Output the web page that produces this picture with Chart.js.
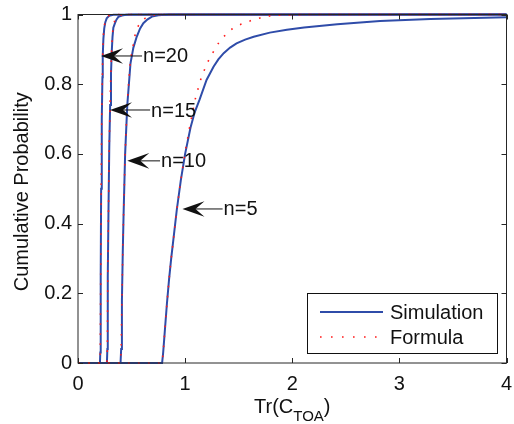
<!DOCTYPE html>
<html>
<head>
<meta charset="utf-8">
<script src="https://cdn.jsdelivr.net/npm/chart.js@4.4.1/dist/chart.umd.min.js"></script>
<style>
html,body{margin:0;padding:0;background:#fff;}
#wrap{width:514px;height:424px;position:relative;}
</style>
</head>
<body>
<div id="wrap"><canvas id="c" width="514" height="424"></canvas></div>
<script>
// ---- data ----
const xTickValues = [0, 1, 2, 3, 4];
const yTickValues = [0, 0.2, 0.4, 0.6, 0.8, 1];

const sim20X = [0, 0.205, 0.208, 0.212, 0.216, 0.222, 0.228, 0.231, 0.237, 0.245, 0.255, 0.268, 0.29, 0.33, 4];
const sim20Y = [0, 0, 0.03, 0.25, 0.5, 0.7, 0.82, 0.88, 0.93, 0.96, 0.978, 0.989, 0.996, 0.999, 1];
const for20X = [0, 0.205, 0.208, 0.212, 0.216, 0.222, 0.228, 0.231, 0.237, 0.245, 0.255, 0.268, 0.29, 0.33, 4];
const for20Y = [0, 0, 0.03, 0.25, 0.5, 0.71, 0.83, 0.89, 0.94, 0.966, 0.982, 0.992, 0.997, 1, 1];

const sim15X = [0, 0.27, 0.274, 0.278, 0.285, 0.292, 0.3, 0.308, 0.315, 0.322, 0.33, 0.346, 0.36, 0.377, 0.41, 0.45, 0.5, 4];
const sim15Y = [0, 0, 0.04, 0.25, 0.45, 0.62, 0.74, 0.83, 0.893, 0.935, 0.962, 0.976, 0.986, 0.993, 0.997, 0.999, 1, 1];
const for15X = [0, 0.27, 0.274, 0.278, 0.285, 0.292, 0.3, 0.308, 0.315, 0.322, 0.33, 0.346, 0.36, 0.377, 0.41, 0.45, 4];
const for15Y = [0, 0, 0.04, 0.25, 0.45, 0.63, 0.75, 0.845, 0.905, 0.945, 0.97, 0.985, 0.992, 0.997, 0.999, 1, 1];

const sim10X = [0, 0.397, 0.403, 0.41, 0.418, 0.425, 0.44, 0.46, 0.49, 0.517, 0.548, 0.58, 0.61, 0.65, 0.69, 0.75, 0.85, 4];
const sim10Y = [0, 0, 0.04, 0.18, 0.32, 0.42, 0.6, 0.74, 0.86, 0.905, 0.936, 0.96, 0.975, 0.986, 0.994, 0.998, 1, 1];
const for10X = [0, 0.397, 0.403, 0.41, 0.418, 0.425, 0.44, 0.46, 0.49, 0.517, 0.533, 0.564, 0.6, 0.626, 0.67, 0.75, 4];
const for10Y = [0, 0, 0.04, 0.18, 0.32, 0.42, 0.6, 0.75, 0.87, 0.915, 0.941, 0.968, 0.982, 0.989, 0.996, 1, 1];

const sim5X = [0, 0.785, 0.795, 0.81, 0.83, 0.85, 0.87, 0.89, 0.922, 0.96, 1.0, 1.05, 1.09, 1.134, 1.2, 1.265, 1.31, 1.36, 1.42, 1.48, 1.56, 1.64, 1.79, 1.95, 2.11, 2.42, 2.82, 3.29, 3.7, 4.0];
const sim5Y = [0, 0, 0.03, 0.09, 0.17, 0.24, 0.30, 0.353, 0.439, 0.525, 0.6, 0.675, 0.72, 0.755, 0.812, 0.85, 0.871, 0.889, 0.905, 0.917, 0.928, 0.936, 0.948, 0.956, 0.963, 0.972, 0.981, 0.987, 0.990, 0.992];
const for5X = [0, 0.785, 0.795, 0.81, 0.83, 0.85, 0.87, 0.89, 0.922, 0.96, 1.0, 1.05, 1.10, 1.156, 1.227, 1.318, 1.38, 1.44, 1.52, 1.61, 1.70, 1.785, 1.88, 1.97, 2.1, 4];
const for5Y = [0, 0, 0.03, 0.09, 0.17, 0.24, 0.30, 0.353, 0.439, 0.525, 0.605, 0.69, 0.765, 0.824, 0.874, 0.921, 0.943, 0.959, 0.972, 0.982, 0.99, 0.9957, 0.998, 0.9988, 1, 1];

const legendLabels = ['Simulation', 'Formula'];
const arrowLabels = ['n=20', 'n=15', 'n=10', 'n=5'];
const arrowTipX = [0.215, 0.299, 0.46, 0.975];
const arrowTipY = [0.881, 0.726, 0.58, 0.442];
const arrowTextX = [0.598, 0.673, 0.766, 1.35];

// ---- styles ----
const BLUE = '#2f4ca9';
const RED = '#ff1a1a';
const AXIS = '#262626';
const FONT = '"Liberation Sans", Arial, Helvetica, sans-serif';

function pts(xs, ys) { return xs.map((x, i) => ({ x: x, y: ys[i] })); }

function simDs(xs, ys) {
  return { label: legendLabels[0], data: pts(xs, ys), borderColor: BLUE, borderWidth: 2,
    pointRadius: 0, tension: 0, showLine: true, fill: false, order: 2, clip: 4 };
}
function forDs(xs, ys) {
  return { label: legendLabels[1], data: pts(xs, ys), borderColor: RED, borderWidth: 1.6,
    borderDash: [1.6, 8.4], borderCapStyle: 'butt', pointRadius: 0, tension: 0, showLine: true,
    fill: false, order: 1, clip: 4 };
}

const datasets = [
  simDs(sim20X, sim20Y), simDs(sim15X, sim15Y), simDs(sim10X, sim10Y), simDs(sim5X, sim5Y),
  forDs(for20X, for20Y), forDs(for15X, for15Y), forDs(for10X, for10Y), forDs(for5X, for5Y)
];

const framePlugin = {
  id: 'frame',
  afterDatasetsDraw(chart) {
    const { ctx, chartArea: a, scales } = chart;
    ctx.save();
    ctx.strokeStyle = AXIS;
    ctx.lineWidth = 1;
    ctx.strokeRect(a.left, a.top, a.right - a.left, a.bottom - a.top);
    const tl = 5;
    ctx.beginPath();
    xTickValues.forEach(v => {
      const px = Math.round(scales.x.getPixelForValue(v)) + 0.5;
      ctx.moveTo(px, a.bottom); ctx.lineTo(px, a.bottom - tl);
      ctx.moveTo(px, a.top); ctx.lineTo(px, a.top + tl);
    });
    yTickValues.forEach(v => {
      const py = Math.round(scales.y.getPixelForValue(v)) + 0.5;
      ctx.moveTo(a.left, py); ctx.lineTo(a.left + tl, py);
      ctx.moveTo(a.right, py); ctx.lineTo(a.right - tl, py);
    });
    ctx.stroke();

    // arrows + labels
    ctx.fillStyle = '#111';
    ctx.strokeStyle = '#111';
    arrowLabels.forEach((lab, i) => {
      const tx = scales.x.getPixelForValue(arrowTipX[i]);
      const ty = scales.y.getPixelForValue(arrowTipY[i]);
      const ex = scales.x.getPixelForValue(arrowTextX[i]);
      ctx.lineWidth = 1;
      ctx.beginPath();
      ctx.moveTo(tx + 12, ty); ctx.lineTo(ex, ty);
      ctx.stroke();
      ctx.beginPath();
      ctx.moveTo(tx, ty);
      ctx.lineTo(tx + 22, ty - 7.8);
      ctx.lineTo(tx + 13, ty);
      ctx.lineTo(tx + 22, ty + 7.8);
      ctx.closePath();
      ctx.fill();
      ctx.font = '20px ' + FONT;
      ctx.textBaseline = 'middle';
      ctx.textAlign = 'left';
      ctx.fillText(lab, ex + 1, ty + 1);
    });

    // legend
    const bw = 190, bh = 60;
    const bx = a.right - 9.5 - bw, by = a.bottom - 10 - bh;
    ctx.fillStyle = '#fff';
    ctx.fillRect(bx, by, bw, bh);
    ctx.strokeStyle = '#111';
    ctx.lineWidth = 1;
    ctx.strokeRect(Math.round(bx) + 0.5, Math.round(by) + 0.5, bw, bh);
    const y1 = by + 19, y2 = by + 44;
    ctx.strokeStyle = BLUE; ctx.lineWidth = 2;
    ctx.beginPath(); ctx.moveTo(bx + 13, y1); ctx.lineTo(bx + 76, y1); ctx.stroke();
    ctx.strokeStyle = RED; ctx.lineWidth = 1.6; ctx.setLineDash([1.6, 9.4]);
    ctx.beginPath(); ctx.moveTo(bx + 13, y2); ctx.lineTo(bx + 76, y2); ctx.stroke();
    ctx.setLineDash([]);
    ctx.fillStyle = '#111';
    ctx.font = '20px ' + FONT;
    ctx.textBaseline = 'middle';
    ctx.fillText(legendLabels[0], bx + 83, y1 + 1);
    ctx.fillText(legendLabels[1], bx + 83, y2 + 1);

    // axis titles
    ctx.fillStyle = '#111';
    ctx.save();
    ctx.translate(22, (a.top + a.bottom) / 2 + 3);
    ctx.rotate(-Math.PI / 2);
    ctx.textAlign = 'center';
    ctx.textBaseline = 'middle';
    ctx.font = '20px ' + FONT;
    ctx.fillText('Cumulative Probability', 0, 0);
    ctx.restore();

    const main = 'Tr(C', sub = 'TOA', close = ')';
    ctx.textBaseline = 'alphabetic';
    ctx.textAlign = 'left';
    ctx.font = '20px ' + FONT;
    const w1 = ctx.measureText(main).width, w3 = ctx.measureText(close).width;
    ctx.font = '15px ' + FONT;
    const w2 = ctx.measureText(sub).width;
    const total = w1 + w2 + w3;
    let x0 = (a.left + a.right) / 2 - total / 2;
    const base = 413;
    ctx.font = '20px ' + FONT;
    ctx.fillText(main, x0, base);
    ctx.font = '15px ' + FONT;
    ctx.fillText(sub, x0 + w1, base + 8);
    ctx.font = '20px ' + FONT;
    ctx.fillText(close, x0 + w1 + w2, base);
    ctx.restore();
  }
};

new Chart(document.getElementById('c'), {
  type: 'scatter',
  data: { datasets: datasets },
  options: {
    responsive: false,
    animation: false,
    events: [],
    layout: { padding: { top: 14.5, right: 7.5, left: 0, bottom: 0 } },
    plugins: { legend: { display: false }, tooltip: { enabled: false }, title: { display: false } },
    scales: {
      x: {
        type: 'linear', min: 0, max: 4,
        afterFit(s) { s.height = 61; s.paddingLeft = 0; s.paddingRight = 0; },
        afterBuildTicks(s) { s.ticks = xTickValues.map(v => ({ value: v })); },
        grid: { display: false, drawTicks: false },
        border: { display: false },
        ticks: { padding: 9, color: '#111', font: { size: 20, family: FONT },
          callback: v => String(v), maxRotation: 0, autoSkip: false }
      },
      y: {
        type: 'linear', min: 0, max: 1,
        afterFit(s) { s.width = 78; s.paddingTop = 0; s.paddingBottom = 0; },
        afterBuildTicks(s) { s.ticks = yTickValues.map(v => ({ value: v })); },
        grid: { display: false, drawTicks: false },
        border: { display: false },
        ticks: { padding: 6, color: '#111', font: { size: 20, family: FONT },
          callback: v => String(v), autoSkip: false }
      }
    }
  },
  plugins: [framePlugin]
});
</script>
</body>
</html>
